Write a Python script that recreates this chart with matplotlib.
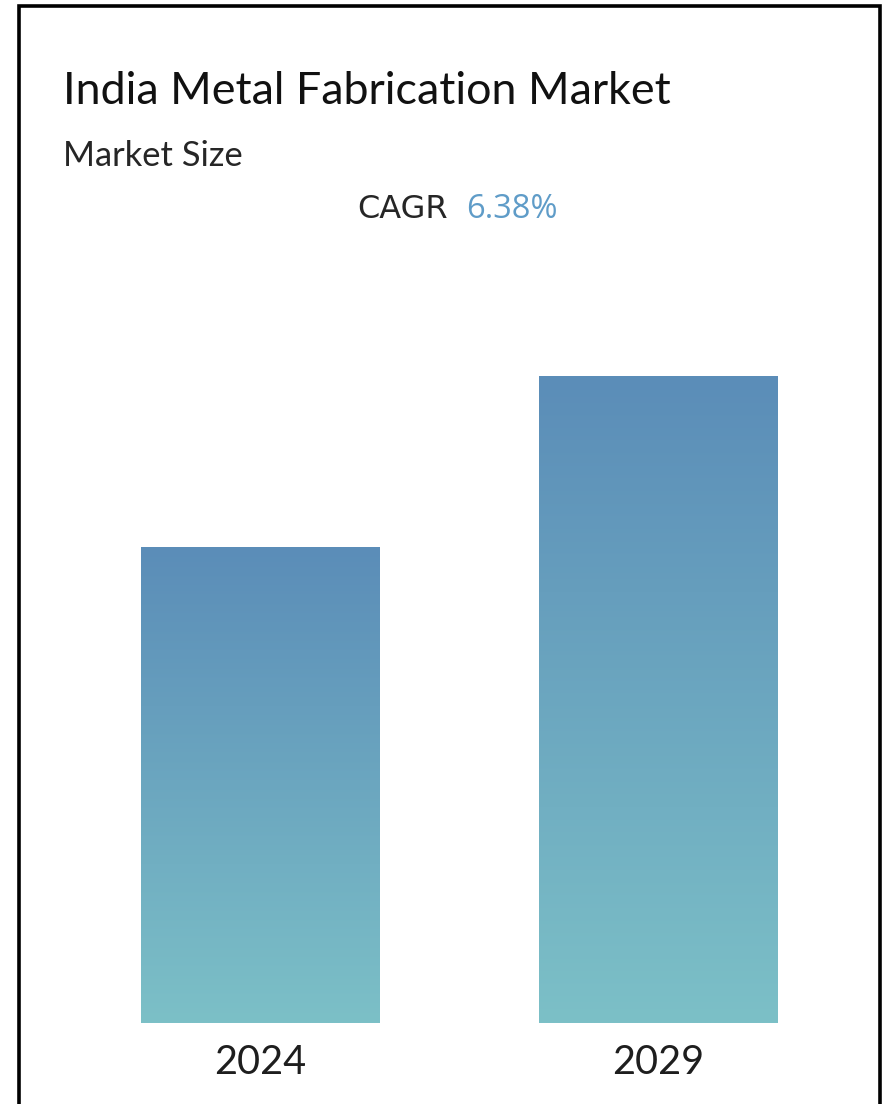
import matplotlib.pyplot as plt
import numpy as np
from matplotlib.colors import LinearSegmentedColormap
from matplotlib.patches import Rectangle

# Market size, relative to 2024 (CAGR 6.38% over five years)
years = ["2024", "2029"]
market_size = [1.0, 1.362]
cagr = "6.38%"

W, H = 884, 1104
fig = plt.figure(figsize=(W / 100, H / 100), dpi=100)
fig.patch.set_facecolor("white")
plt.rcParams["font.family"] = ["Lato", "DejaVu Sans"]

# outer frame (runs off the bottom edge)
fig.patches.append(Rectangle((19 / W, -0.05), (880 - 19) / W, 1.05 - 6 / H,
                             transform=fig.transFigure, fill=False,
                             edgecolor="black", linewidth=2.6))

def px(x, y):
    return x / W, 1 - y / H

fig.text(*px(63, 104), "India Metal Fabrication Market", fontsize=32.3,
         color="#111111", va="baseline", ha="left")
fig.text(*px(63, 166), "Market Size", fontsize=24.8,
         color="#262626", va="baseline", ha="left")
fig.text(*px(448, 218), "CAGR", fontsize=23, color="#262626",
         va="baseline", ha="right", family=["DejaVu Sans"])
fig.text(*px(466, 218), cagr, fontsize=23.5, color="#5f9cc8",
         va="baseline", ha="left", family=["Open Sans", "DejaVu Sans"])

# bar area
left, right, bottom, top = 141, 777, 1023, 376
ax = fig.add_axes([left / W, 1 - bottom / H, (right - left) / W, (bottom - top) / H])
ax.set_axis_off()

cmap = LinearSegmentedColormap.from_list("bar", ["#7cc0c7", "#5b8db8"])
grad = np.linspace(0, 1, 256).reshape(-1, 1)
bar_w = 0.6
x = np.arange(len(years))
for xi, v in zip(x, market_size):
    ax.imshow(grad, cmap=cmap, origin="lower", aspect="auto",
              extent=[xi - bar_w / 2, xi + bar_w / 2, 0, v])
    ax.text(xi, -0.045, years[xi], ha="center", va="top", fontsize=28.5,
            color="#1e1e1e", transform=ax.transData)

ax.set_xlim(-bar_w / 2, len(years) - 1 + bar_w / 2)
ax.set_ylim(0, max(market_size))

fig.savefig("out.png", dpi=100)
